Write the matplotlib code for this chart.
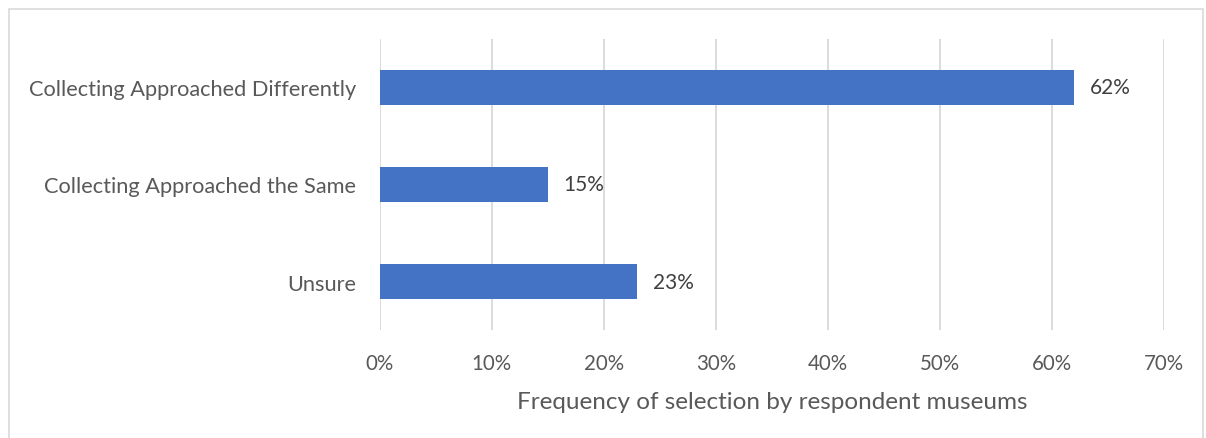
import matplotlib.pyplot as plt
from matplotlib.patches import Rectangle
from matplotlib.ticker import FuncFormatter

categories = ["Collecting Approached Differently", "Collecting Approached the Same", "Unsure"]
values = [62, 15, 23]
xticks = [0, 10, 20, 30, 40, 50, 60, 70]
xlabel = "Frequency of selection by respondent museums"

bar_color = "#4472C4"
text_color = "#595959"
grid_color = "#D9D9D9"

plt.rcParams['font.family'] = ['Lato', 'DejaVu Sans']

fig = plt.figure(figsize=(12.06, 4.39), dpi=100)
ax = fig.add_axes([0.315, 0.245, 0.65, 0.665])

ypos = list(range(len(categories)))
ax.barh(ypos, values, height=0.36, color=bar_color, zorder=3)
for y, v in zip(ypos, values):
    ax.text(v + 1.4, y, f"{v}%", va="center", ha="left", fontsize=15, color="#404040")

ax.set_yticks(ypos)
ax.set_yticklabels(categories, fontsize=15.7, color=text_color)
ax.set_ylim(len(categories) - 0.5, -0.5)
ax.set_xlim(0, 70)
ax.set_xticks(xticks)
ax.xaxis.set_major_formatter(FuncFormatter(lambda x, _: f"{x:.0f}%"))
ax.tick_params(axis="x", labelsize=14.8, colors=text_color, length=0, pad=16)
ax.tick_params(axis="y", length=0, pad=17)
ax.set_xlabel(xlabel, fontsize=17.5, color=text_color, labelpad=13)

ax.grid(axis="x", color=grid_color, linewidth=1.3, zorder=0)
for s in ax.spines.values():
    s.set_visible(False)

# light frame around the whole chart area
fig.patches.append(Rectangle((9 / 1206, -0.01), 1194 / 1206, 1 - 10 / 439 + 0.01,
                             transform=fig.transFigure, fill=False,
                             edgecolor="#D9D9D9", linewidth=1.2))

fig.savefig("out.png", dpi=100)
